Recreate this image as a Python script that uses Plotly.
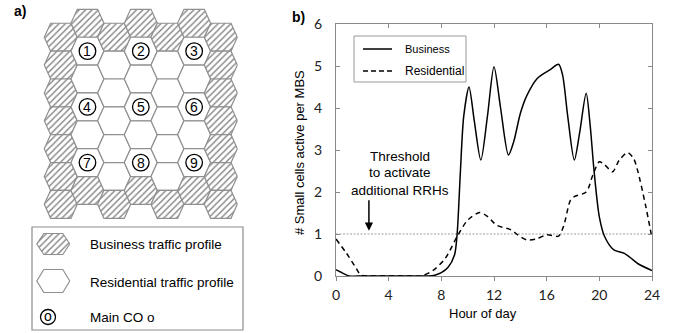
import plotly.graph_objects as go

# ---------------- data ----------------
hours_business = [0, 0.5, 1, 2, 3, 4, 5, 6, 7, 7.5, 8, 8.5, 9, 9.2, 9.45, 9.7, 10.1, 10.5, 11.0,
                  11.5, 12.0, 12.5, 13.1, 13.5, 14.0, 14.5, 15.3, 16.3, 16.9, 17.2, 17.6, 18.1,
                  18.5, 19.0, 19.3, 19.6, 20.0, 20.4, 21.1, 21.9, 22.5, 23.0, 24.0]
business = [0.15, 0.07, 0.0, 0.0, 0.0, 0.0, 0.0, 0.0, 0.0, 0.02, 0.08, 0.2, 0.5, 1.0, 2.5, 3.8, 4.5,
            3.7, 2.76, 3.8, 4.98, 4.0, 2.88, 3.2, 3.87, 4.3, 4.71, 4.92, 5.04, 4.8, 3.8, 2.76,
            3.4, 4.35, 3.6, 2.5, 1.41, 0.94, 0.62, 0.54, 0.4, 0.28, 0.13]

hours_residential = [0, 0.8, 1.5, 1.9, 2.5, 4, 5.5, 6.5, 7.4, 8.3, 9.2, 10.0, 10.9, 11.5, 12.2,
                     13.3, 13.8, 14.5, 15.2, 16.0, 16.9, 17.3, 17.8, 18.1, 19.0, 19.5, 20.0,
                     20.4, 21.0, 21.5, 22.15, 22.6, 22.9, 23.5, 24.0]
residential = [0.88, 0.54, 0.2, 0.02, 0.0, 0.0, 0.0, 0.0, 0.14, 0.42, 0.94, 1.33, 1.51, 1.42, 1.21,
               1.1, 0.98, 0.86, 0.88, 0.98, 0.95, 1.2, 1.8, 1.89, 2.0, 2.4, 2.72,
               2.65, 2.48, 2.75, 2.94, 2.8, 2.52, 1.7, 0.9]

threshold = 1
x_ticks = [0, 4, 8, 12, 16, 20, 24]
y_ticks = [0, 1, 2, 3, 4, 5, 6]

series_names = ["Business", "Residential"]
threshold_text = ["Threshold", "to activate", "additional RRHs"]

# hex grid: one string per column, top to bottom. H = business (hatched),
# W = residential (white), digit = residential cell holding main CO n
grid_columns = ["HHHHHHH", "H1W4W7H", "HWWWWWH", "H2W5W8H", "HWWWWWH", "H3W6W9H", "HHHHHHH"]
legend_a_labels = ["Business traffic profile", "Residential traffic profile", "Main CO o"]

# ---------------- helpers ----------------
W, H = 675, 333


def px(x):
    return x / W


def py(y):
    return 1 - y / H


GRID = "#909090"
HATCH = dict(shape="/", fgcolor="#808080", bgcolor="white", size=4.5, solidity=0.3)


def hexagon(cx, cy, a, b, h):
    xs = [cx + a, cx + b, cx - b, cx - a, cx - b, cx + b, cx + a]
    ys = [cy, cy + h, cy + h, cy, cy - h, cy - h, cy]
    return xs, ys


def note(x, y, text, size, xref="paper", yref="paper", xanchor="center", **kw):
    d = dict(x=x, y=y, xref=xref, yref=yref, text=text, showarrow=False,
             xanchor=xanchor, yanchor="middle",
             font=dict(family="Liberation Sans", size=size, color="black"))
    d.update(kw)
    return d


fig = go.Figure()
shapes = []
annotations = []

# ---------------- panel a: hex grid ----------------
A, B, HH = 16.5, 10.2, 13.93
col_x0, col_dx = 60.8, 26.67
row_y_even, row_y_odd, row_dy = 37.2, 23.3, 27.86

for c, col in enumerate(grid_columns):
    cx = col_x0 + c * col_dx
    y0 = row_y_even if c % 2 == 0 else row_y_odd
    for r, kind in enumerate(col):
        cy = y0 + r * row_dy
        xs, ys = hexagon(cx, cy, A, B, HH)
        extra = dict(fillpattern=HATCH) if kind == "H" else {}
        fig.add_trace(go.Scatter(x=xs, y=ys, xaxis="x2", yaxis="y2", mode="lines",
                                 fill="toself", fillcolor="white",
                                 line=dict(color=GRID, width=1.2), hoverinfo="skip",
                                 showlegend=False, **extra))
        if kind.isdigit():
            shapes.append(dict(type="circle", xref="x2", yref="y2",
                               x0=cx - 8.3, x1=cx + 8.3, y0=cy - 8.3, y1=cy + 8.3,
                               line=dict(color="black", width=1.3), fillcolor="rgba(0,0,0,0)"))
            annotations.append(note(cx, cy, kind, 14, xref="x2", yref="y2"))

# legend box panel a
shapes.append(dict(type="rect", xref="x2", yref="y2", x0=32, x1=243, y0=227, y1=330,
                   line=dict(color="#8c8c8c", width=1.2), fillcolor="rgba(0,0,0,0)"))
xs, ys = hexagon(53.3, 244, 16.5, 9.5, 10.5)
fig.add_trace(go.Scatter(x=xs, y=ys, xaxis="x2", yaxis="y2", mode="lines", fill="toself",
                         fillcolor="white", fillpattern=HATCH, line=dict(color=GRID, width=1.2),
                         hoverinfo="skip", showlegend=False))
xs, ys = hexagon(53.3, 281, 16.5, 9.5, 11.5)
fig.add_trace(go.Scatter(x=xs, y=ys, xaxis="x2", yaxis="y2", mode="lines", fill="toself",
                         fillcolor="white", line=dict(color=GRID, width=1.2),
                         hoverinfo="skip", showlegend=False))
shapes.append(dict(type="circle", xref="x2", yref="y2", x0=48 - 7.5, x1=48 + 7.5,
                   y0=317 - 7.5, y1=317 + 7.5, line=dict(color="black", width=1.3)))
annotations.append(note(48, 316, "o", 14, xref="x2", yref="y2"))
for lab, yy in zip(legend_a_labels, [244, 282, 317]):
    annotations.append(note(88, yy, lab, 13.5, xref="x2", yref="y2", xanchor="left"))

annotations.append(note(px(20), py(11), "<b>a)</b>", 14))
annotations.append(note(px(298), py(17), "<b>b)</b>", 14))

# ---------------- panel b: line chart ----------------
fig.add_trace(go.Scatter(x=[0, 24], y=[threshold, threshold], mode="lines",
                         line=dict(color="#a0a0a0", width=1.2, dash="2px,1.5px"),
                         showlegend=False, hoverinfo="skip"))
fig.add_trace(go.Scatter(x=hours_residential, y=residential, mode="lines", name=series_names[1],
                         line=dict(color="black", width=1.5, dash="5px,4px", shape="spline",
                                   smoothing=0.8), showlegend=False))
fig.add_trace(go.Scatter(x=hours_business, y=business, mode="lines", name=series_names[0],
                         line=dict(color="black", width=1.5, shape="spline", smoothing=0.8),
                         showlegend=False))

# legend panel b (manual)
shapes.append(dict(type="rect", xref="paper", yref="paper", x0=px(354), x1=px(466),
                   y0=py(36), y1=py(82), line=dict(color="#999", width=1), fillcolor="white",
                   layer="above"))
shapes.append(dict(type="line", xref="paper", yref="paper", x0=px(363), x1=px(392),
                   y0=py(49), y1=py(49), line=dict(color="black", width=1.5)))
shapes.append(dict(type="line", xref="paper", yref="paper", x0=px(363), x1=px(392),
                   y0=py(71), y1=py(71), line=dict(color="black", width=1.5, dash="5px,3px")))
annotations.append(note(px(403), py(49), series_names[0], 11, xanchor="left"))
annotations.append(note(px(403), py(71), series_names[1], 12, xanchor="left"))

# threshold annotation
for t, yy in zip(threshold_text, [156, 173, 190]):
    annotations.append(note(px(400), py(yy), t, 13.5))
annotations.append(dict(x=2.5, y=1.08, xref="x", yref="y", text="", showarrow=True,
                        ax=0, ay=-32, arrowhead=2, arrowsize=1.1, arrowwidth=1.5,
                        arrowcolor="black"))

# axis titles
annotations.append(note(px(299), py(153), "# Small cells active per MBS", 13, textangle=-90))
annotations.append(note(px(483), py(313), "Hour of day", 13))

AX = "#8a8a8a"
TICKFONT = dict(family="Lato", size=14, color="#222")
fig.update_layout(
    template="none",
    width=W, height=H, margin=dict(l=0, r=0, t=0, b=0, pad=0, autoexpand=False),
    paper_bgcolor="white", plot_bgcolor="white", showlegend=False,
    xaxis=dict(domain=[px(336), px(652)], range=[0, 24], tickvals=x_ticks, ticks="outside",
               ticklen=4, tickcolor=AX, showline=True, linecolor=AX, linewidth=1,
               showgrid=False, zeroline=False, tickfont=TICKFONT, anchor="y", automargin=False,
               ticklabelstandoff=2),
    xaxis3=dict(overlaying="x", side="top", range=[0, 24], tickvals=x_ticks, ticks="inside",
                ticklen=4, tickcolor=AX, showline=True, linecolor=AX, linewidth=1,
                showticklabels=False, showgrid=False, zeroline=False, anchor="y",
                automargin=False),
    yaxis=dict(domain=[py(276), py(24)], range=[0, 6], tickvals=y_ticks, ticks="inside",
               ticklen=4, tickcolor=AX, showline=True, linecolor=AX, linewidth=1,
               mirror="ticks", showgrid=False, zeroline=False, tickfont=TICKFONT,
               ticklabelstandoff=10, automargin=False),
    xaxis2=dict(domain=[0, px(260)], range=[0, 260], visible=False, fixedrange=True,
                automargin=False),
    yaxis2=dict(domain=[0, 1], range=[333, 0], visible=False, fixedrange=True, anchor="x2",
                automargin=False),
    shapes=shapes, annotations=annotations,
)
# invisible trace so the top axis is drawn
fig.add_trace(go.Scatter(x=[0], y=[0], xaxis="x3", yaxis="y", mode="markers",
                         marker=dict(opacity=0), showlegend=False, hoverinfo="skip"))

fig.write_html("out.html", config={"displayModeBar": False},
               post_script="document.body.style.margin='0';")
